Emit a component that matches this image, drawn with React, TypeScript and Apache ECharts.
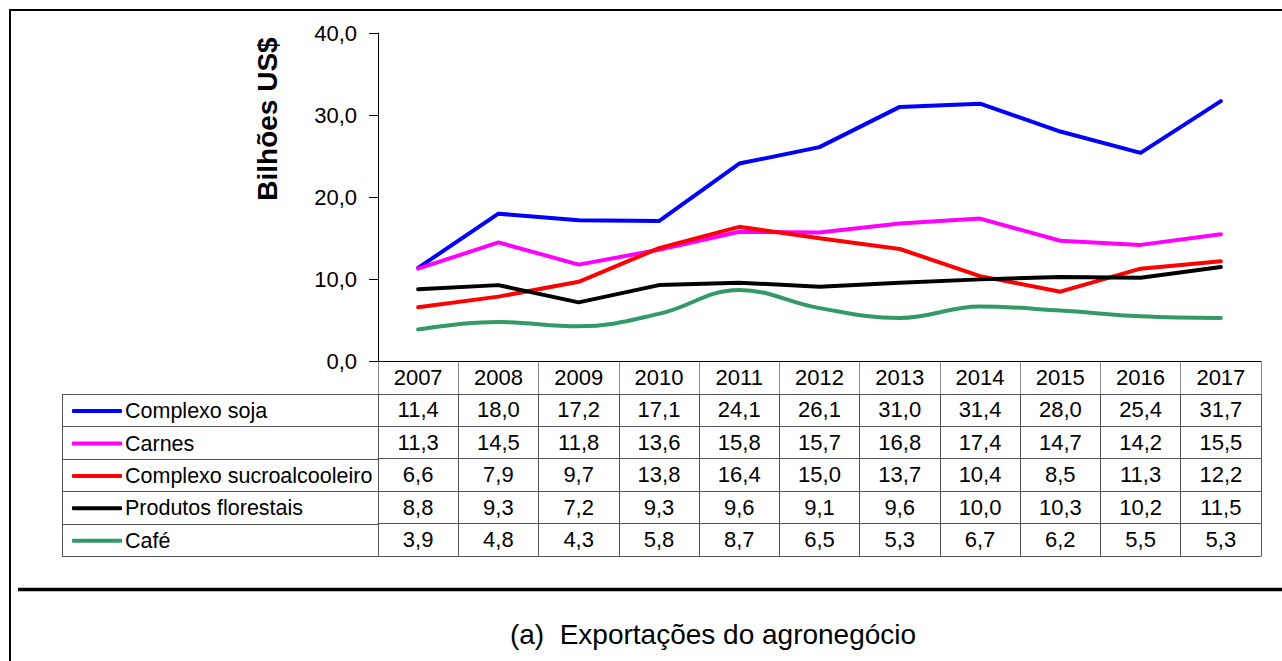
import React, { useEffect, useRef } from "react";
import * as echarts from "echarts";

const years = ["2007", "2008", "2009", "2010", "2011", "2012", "2013", "2014", "2015", "2016", "2017"];
const soja = [11.4, 18.0, 17.2, 17.1, 24.1, 26.1, 31.0, 31.4, 28.0, 25.4, 31.7];
const carnes = [11.3, 14.5, 11.8, 13.6, 15.8, 15.7, 16.8, 17.4, 14.7, 14.2, 15.5];
const sucro = [6.6, 7.9, 9.7, 13.8, 16.4, 15.0, 13.7, 10.4, 8.5, 11.3, 12.2];
const florestais = [8.8, 9.3, 7.2, 9.3, 9.6, 9.1, 9.6, 10.0, 10.3, 10.2, 11.5];
const cafe = [3.9, 4.8, 4.3, 5.8, 8.7, 6.5, 5.3, 6.7, 6.2, 5.5, 5.3];
const seriesNames = ["Complexo soja", "Carnes", "Complexo sucroalcooleiro", "Produtos florestais", "Café"];
const seriesData = [soja, carnes, sucro, florestais, cafe];
const seriesColors = ["#0000ff", "#ff00ff", "#ff0000", "#000000", "#339966"];
const seriesSmooth = [false, false, false, false, 0.4];
const yTicks = { min: 0, max: 40, interval: 10 };
const caption = "(a)  Exportações do agronegócio";
const yName = "Bilhões US$";

const W = 1282;
const H = 661;
const FONT = "Liberation Sans";
const gridLeft = 378;
const gridRight = 1261;
const gridTop = 33;
const gridBottom = 361.5;
const rowH = 32.4;
const tableLeft = 62;

const fmt = (v: number) => v.toFixed(1).replace(".", ",");

export default function App() {
  const ref = useRef<HTMLDivElement>(null);
  useEffect(() => {
    if (!ref.current) return;
    const chart = echarts.init(ref.current, null, { renderer: "svg" });

    const xAxes: any[] = [];
    xAxes.push({
      type: "category",
      data: years,
      position: "bottom",
      offset: 0,
      boundaryGap: true,
      axisLine: { show: true, lineStyle: { color: "#000", width: 1 } },
      axisTick: { show: true, length: rowH, lineStyle: { color: "#8c8c8c", width: 1 } },
      axisLabel: { interval: 0, color: "#000", fontSize: 22, fontFamily: FONT, margin: 5 },
    });
    seriesData.forEach((arr, k) => {
      xAxes.push({
        type: "category",
        data: years,
        position: "bottom",
        offset: (k + 1) * rowH,
        boundaryGap: true,
        axisLine: { show: true, lineStyle: { color: "#555", width: 1 } },
        axisTick: { show: true, length: rowH, lineStyle: { color: "#555", width: 1 } },
        axisLabel: {
          interval: 0,
          color: "#000",
          fontSize: 22,
          fontFamily: FONT,
          margin: 5,
          formatter: (_v: string, i: number) => fmt(arr[i]),
        },
      });
    });
    xAxes.push({
      type: "category",
      data: years,
      position: "bottom",
      offset: (seriesData.length + 1) * rowH,
      boundaryGap: true,
      axisLine: { show: true, lineStyle: { color: "#555", width: 1 } },
      axisTick: { show: false },
      axisLabel: { show: false },
    });

    const graphics: any[] = [];
    graphics.push({
      type: "rect",
      shape: { x: 10, y: 10, width: 1400, height: 800 },
      style: { fill: "none", stroke: "#000", lineWidth: 2 },
      silent: true,
    });
    graphics.push({
      type: "line",
      shape: { x1: 18, y1: 589.5, x2: W + 5, y2: 589.5 },
      style: { stroke: "#000", lineWidth: 3.5 },
      silent: true,
    });
    for (let k = 1; k <= seriesData.length + 1; k++) {
      const y = Math.round(gridBottom + k * rowH) + 0.5;
      graphics.push({
        type: "line",
        shape: { x1: tableLeft, y1: y, x2: gridLeft, y2: y },
        style: { stroke: "#555", lineWidth: 1 },
        silent: true,
      });
    }
    graphics.push({
      type: "line",
      shape: {
        x1: tableLeft + 0.5,
        y1: Math.round(gridBottom + rowH) + 0.5,
        x2: tableLeft + 0.5,
        y2: Math.round(gridBottom + (seriesData.length + 1) * rowH) + 0.5,
      },
      style: { stroke: "#555", lineWidth: 1 },
      silent: true,
    });
    graphics.push({
      type: "text",
      x: 267,
      y: 119,
      rotation: Math.PI / 2,
      style: {
        text: yName,
        fontSize: 28,
        fontWeight: "bold",
        fontFamily: FONT,
        fill: "#000",
        align: "center",
        verticalAlign: "middle",
      },
    });
    graphics.push({
      type: "text",
      x: 713,
      y: 634,
      style: {
        text: caption,
        fontSize: 28,
        fontFamily: FONT,
        fill: "#000",
        align: "center",
        verticalAlign: "middle",
      },
    });

    chart.setOption({
      animation: false,
      backgroundColor: "#fff",
      grid: {
        left: gridLeft,
        right: W - gridRight,
        top: gridTop,
        bottom: H - gridBottom,
        containLabel: false,
      },
      legend: {
        orient: "vertical",
        left: 67,
        top: gridBottom + rowH + rowH / 2 - 16,
        itemWidth: 50,
        itemHeight: 4,
        itemGap: rowH - 24,
        icon: "roundRect",
        selectedMode: false,
        data: seriesNames.map((n, i) => ({
          name: n,
          itemStyle: { color: seriesColors[i] },
        })),
        textStyle: { fontSize: 21.5, fontFamily: FONT, color: "#000", lineHeight: 24, padding: [0, 0, 0, -2] },
      },
      xAxis: xAxes,
      yAxis: {
        type: "value",
        min: yTicks.min,
        max: yTicks.max,
        interval: yTicks.interval,
        axisLine: { show: true, lineStyle: { color: "#000", width: 1 } },
        axisTick: { show: true, length: 9, lineStyle: { color: "#000" } },
        splitLine: { show: false },
        axisLabel: { color: "#000", fontSize: 22, fontFamily: FONT, margin: 21, formatter: (v: number) => fmt(v) },
      },
      graphic: graphics,
      series: seriesData.map((arr, i) => ({
        type: "line",
        name: seriesNames[i],
        data: arr,
        xAxisIndex: 0,
        yAxisIndex: 0,
        symbol: "none",
        smooth: seriesSmooth[i],
        lineStyle: { color: seriesColors[i], width: 4, cap: "round", join: "round" },
        itemStyle: { color: seriesColors[i] },
      })),
    });
    return () => chart.dispose();
  }, []);

  return (
    <div
      ref={ref}
      style={{ position: "fixed", left: 0, top: 0, width: W, height: H, background: "#fff" }}
    />
  );
}
